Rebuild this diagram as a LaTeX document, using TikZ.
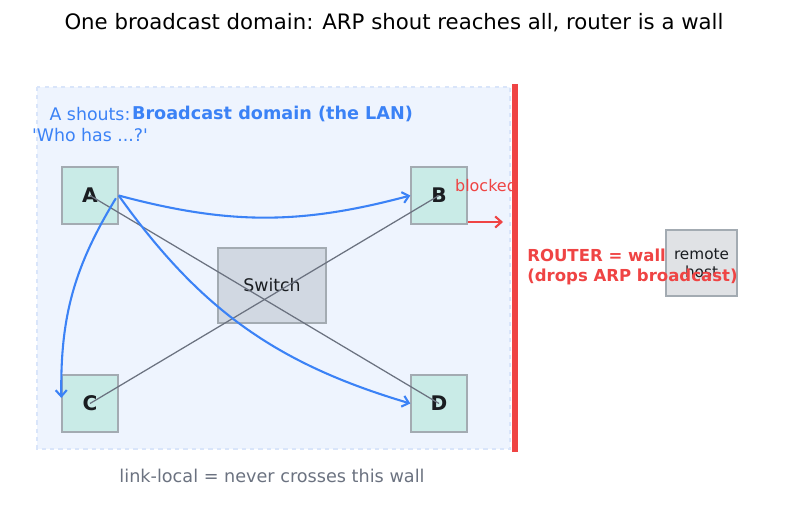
\documentclass[tikz,border=0pt]{standalone}
\usepackage{fontspec}
\setmainfont{DejaVu Sans}
\usetikzlibrary{arrows.meta}

\definecolor{lanfill}{HTML}{EEF4FE}
\definecolor{lanedge}{HTML}{D9E5FA}
\definecolor{shout}{HTML}{3B82F6}
\definecolor{wallred}{HTML}{EF4444}
\definecolor{hostfill}{HTML}{C3EAE3}
\definecolor{swfill}{HTML}{CDD4DE}
\definecolor{remfill}{HTML}{E0E2E5}
\definecolor{boxedge}{HTML}{A3ABB2}
\definecolor{wire}{HTML}{6B7280}
\definecolor{ink}{HTML}{1A1D21}

\begin{document}
\begin{tikzpicture}
  [x=0.72pt,y=-0.72pt,
   every node/.style={font=\fontsize{12.7}{15}\selectfont,inner sep=0pt},
   host/.style={draw=boxedge,line width=1pt,fill=hostfill,fill opacity=.85,text opacity=1,
     minimum width=40.3pt,minimum height=41pt,font=\fontsize{14.5}{16}\selectfont\bfseries,text=ink},
   sw/.style={draw=boxedge,line width=1pt,fill=swfill,fill opacity=.85,text opacity=1,
     minimum width=77.8pt,minimum height=54pt,text=ink,font=\fontsize{12.5}{15}\selectfont},
   remote/.style={draw=boxedge,line width=1pt,fill=remfill,minimum width=51pt,minimum height=47.5pt,
     font=\fontsize{11}{13}\selectfont,align=center,text=ink},
   wire/.style={draw=wire,line width=.9pt},
   flood/.style={draw=shout,line width=1.5pt,-{Straight Barb[length=4.5pt,width=8pt]}},
   blockarrow/.style={draw=wallred,line width=1.5pt,-{Straight Barb[length=4.5pt,width=8pt]}}]

  \useasboundingbox (0,0) rectangle (787,508);

  % the LAN
  \fill[lanfill] (37,87) rectangle (510,449);
  \draw[lanedge,line width=1.2pt,dashed] (37,87) rectangle (510,449);

  \node (title) at (394,23) {\fontsize{15.3}{18}\selectfont One broadcast domain: ARP shout reaches all, router is a wall};
  \node [text=shout,font=\fontsize{12.7}{15}\selectfont\bfseries] (lan) at (272.5,114) {Broadcast domain (the LAN)};
  \node [text=shout,align=center,font=\fontsize{12.5}{15}\selectfont] (says) at (90,124.5) {A shouts:\\\textquotesingle Who has ...?\textquotesingle};

  \node [sw] (S) at (272,285.5) {Switch};
  \node [host] (A) at (90,195.5) {A};
  \node [host] (B) at (439,195.5) {B};
  \node [host] (C) at (90,403.5) {C};
  \node [host] (D) at (439,403.5) {D};

  \foreach \from/\to in {A/D,B/C}
    \draw [wire] (\from.center) -- (\to.center);

  % broadcast from A
  \draw [flood] (A.east) to[bend right=15] (B.west);
  \draw [flood] (A.east) to[bend right=19] (D.west);
  \draw [flood] ([xshift=-2pt,yshift=-2pt]A.east) to[bend right=16] ([yshift=4pt]C.west);

  % router
  \draw [wallred,line width=4.3pt] (515,84) -- (515,452);
  \coordinate (hit) at (503,222);
  \node [text=wallred,font=\fontsize{11.5}{13}\selectfont] (blk) at (486,186) {blocked};
  \draw [blockarrow] (B.south east |- hit) -- (hit);

  \node [remote] (R) at (701.5,263) {remote\\host};
  \node [text=wallred,anchor=west,align=left,font=\fontsize{11.9}{14.5}\selectfont\bfseries] (router) at (527,267) {ROUTER = wall\\(drops ARP broadcast)};

  \node [text=wire] (note) at (272,475.5) {link-local = never crosses this wall};
\end{tikzpicture}
\end{document}
